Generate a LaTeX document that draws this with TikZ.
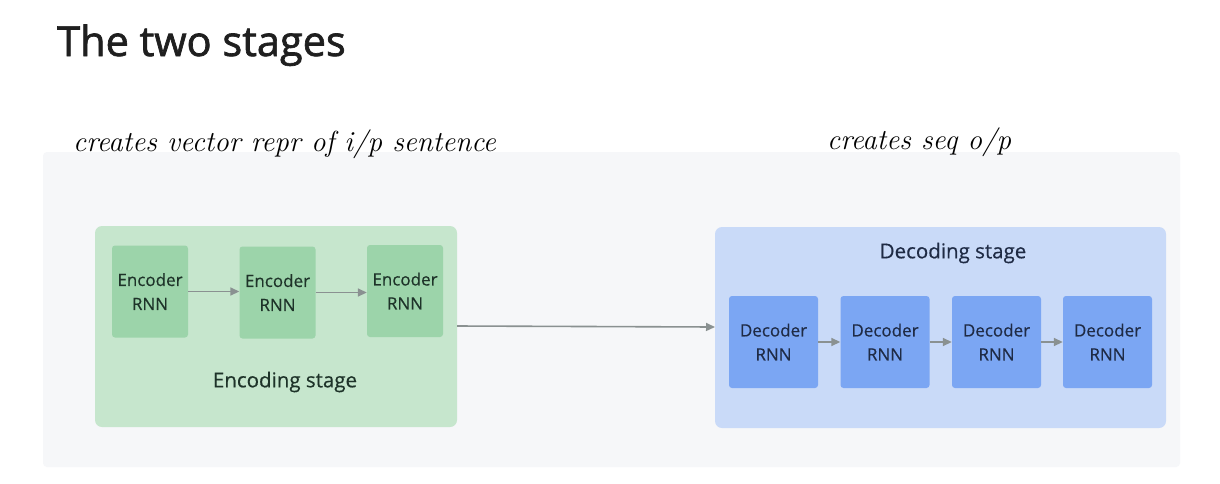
\documentclass[tikz,border=0pt]{standalone}
\usepackage{fontspec}
\setmainfont{Open Sans}[FakeBold=0.4]
\newfontfamily\titlefont{Open Sans}[FakeBold=1.6]
\newfontfamily\handfont{Latin Modern Roman}
\usetikzlibrary{arrows.meta}
\definecolor{panelbg}{HTML}{F6F7F9}
\definecolor{encstage}{HTML}{C6E6CD}
\definecolor{encbox}{HTML}{9CD4AA}
\definecolor{decstage}{HTML}{C9DAF8}
\definecolor{decbox}{HTML}{7BA6F3}
\definecolor{enctext}{HTML}{1E3329}
\definecolor{dectext}{HTML}{1F2B45}
\definecolor{arrowgray}{HTML}{8A9191}
\tikzset{
  stagebox/.style={rounded corners=7pt, inner sep=0pt},
  encnode/.style={fill=encbox, rounded corners=3pt, minimum width=76pt, minimum height=92pt,
    align=center, text=enctext, font=\fontsize{17}{24}\selectfont, inner sep=0pt},
  decnode/.style={fill=decbox, rounded corners=3pt, minimum width=89pt, minimum height=92pt,
    align=center, text=dectext, font=\fontsize{17}{24}\selectfont, inner sep=0pt},
  link/.style={draw=arrowgray, line width=1.6pt, -{Triangle[length=9pt,width=8pt]}},
  stagelabel/.style={font=\fontsize{20.5}{24}\selectfont, inner sep=0pt},
  handnote/.style={font=\handfont\itshape\fontsize{29}{32}\selectfont, inner sep=0pt, anchor=base west},
}
\begin{document}
\begin{tikzpicture}[x=1pt,y=-1pt]
\useasboundingbox (0,0) rectangle (1220,483);
\fill[white] (0,0) rectangle (1220,483);
% background panel
\fill[panelbg, rounded corners=4pt] (43,152) rectangle (1180,467);
% title
\node[font=\titlefont\fontsize{41.5}{46}\selectfont, text=black!88, anchor=base west, inner sep=0pt] (title) at (57,56) {The two stages};
% handwritten notes
\node[handnote] (noteenc) at (73,151) {creates vector repr of i/p sentence};
\node[handnote] (notedec) at (827,149) {creates seq o/p};
% encoding stage
\fill[encstage, stagebox] (95,226) rectangle (457,427);
\coordinate (encout) at (457,326);
\node[encnode] (e1) at (150,291.5) {Encoder\\RNN};
\node[encnode] (e2) at (277.5,292.5) {Encoder\\RNN};
\node[encnode] (e3) at (405,291) {Encoder\\RNN};
\node[stagelabel, text=enctext] (enclabel) at (285,382) {Encoding stage};
% decoding stage
\fill[decstage, stagebox] (715,227) rectangle (1166,428);
\coordinate (decin) at (715,327);
\node[stagelabel, text=dectext] (declabel) at (953,253) {Decoding stage};
\node[decnode] (d1) at (773.5,342) {Decoder\\RNN};
\node[decnode] (d2) at (885,342) {Decoder\\RNN};
\node[decnode] (d3) at (996.5,342) {Decoder\\RNN};
\node[decnode] (d4) at (1107.5,342) {Decoder\\RNN};
% connectors
\draw[link] (e1.east) -- (e2.west |- e1.east);
\draw[link] (e2.east) -- (e3.west |- e2.east);
\draw[link] (encout) -- (decin);
\draw[link] (d1) -- (d2);
\draw[link] (d2) -- (d3);
\draw[link] (d3) -- (d4);
\end{tikzpicture}
\end{document}
